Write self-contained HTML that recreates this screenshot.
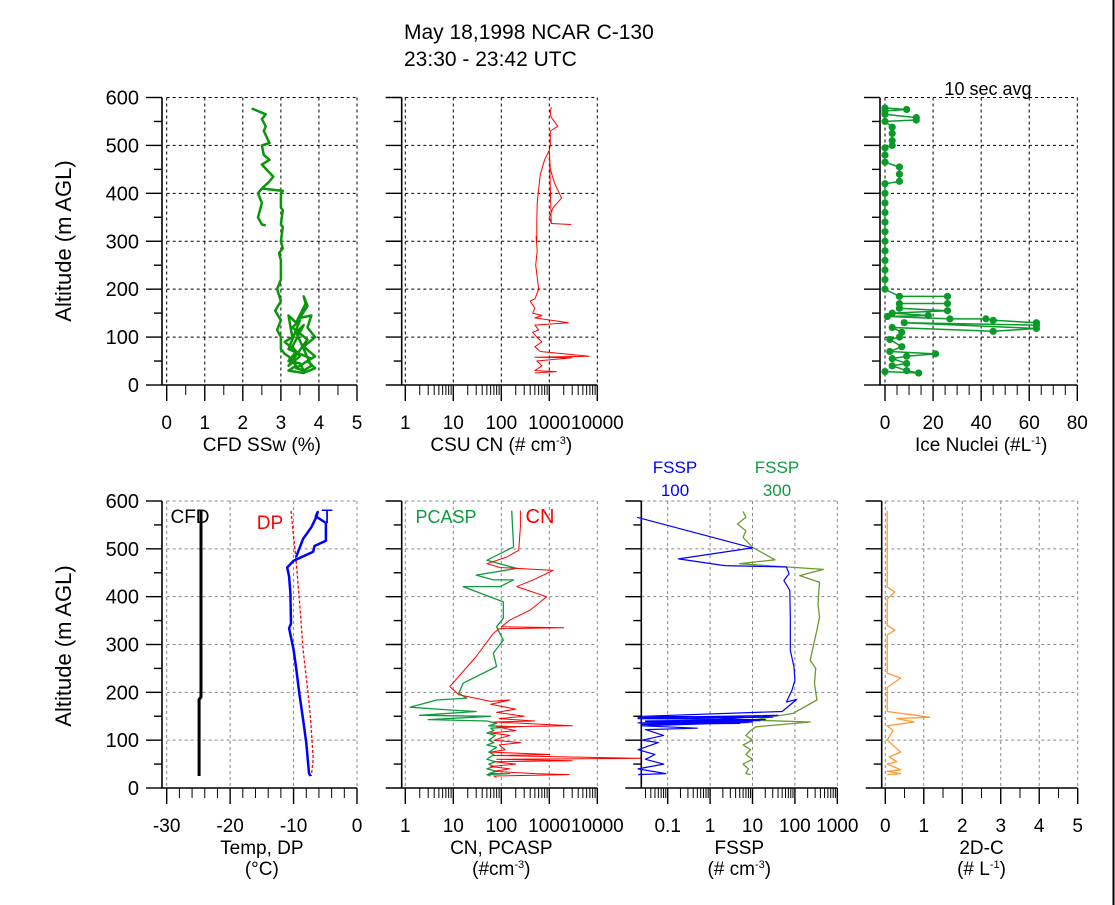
<!DOCTYPE html>
<html><head><meta charset="utf-8"><style>
html,body{margin:0;padding:0;background:#fff;}
body{width:1115px;height:905px;overflow:hidden;}
svg{display:block;font-family:"Liberation Sans",Arial,sans-serif;}
</style></head><body>
<svg id="chart" width="1115" height="905" viewBox="0 0 1115 905" xmlns="http://www.w3.org/2000/svg">
<rect x="0" y="0" width="1115" height="905" fill="#fff"/>
<line x1="1113.5" y1="0" x2="1113.5" y2="905" stroke="#000" stroke-width="2"/>
<text x="404" y="39" font-size="21">May 18,1998 NCAR C-130</text>
<text x="404" y="66" font-size="21">23:30 - 23:42 UTC</text>
<text transform="translate(71,241) rotate(-90)" text-anchor="middle" font-size="22">Altitude (m AGL)</text>
<text transform="translate(71,646) rotate(-90)" text-anchor="middle" font-size="22">Altitude (m AGL)</text>
<text x="988" y="95" text-anchor="middle" font-size="18">10 sec avg</text>
<text x="190" y="523" text-anchor="middle" font-size="19" fill="#000">CFD</text>
<text x="270" y="529" text-anchor="middle" font-size="19" fill="#f00">DP</text>
<text x="327" y="523" text-anchor="middle" font-size="19" fill="#00f">T</text>
<text x="446" y="523" text-anchor="middle" font-size="18" fill="#109a40">PCASP</text>
<text x="540" y="523" text-anchor="middle" font-size="20" fill="#f00">CN</text>
<text x="675" y="473" text-anchor="middle" font-size="17" fill="#00f">FSSP<tspan x="675" dy="23">100</tspan></text>
<text x="777" y="473" text-anchor="middle" font-size="17" fill="#109a40">FSSP<tspan x="777" dy="23">300</tspan></text>
</svg>
<script>
// ---------- data ----------
const altTicks = [0,100,200,300,400,500,600];
const sswVals1 = [2.23,2.3,2.6,2.5,2.6,2.55,2.7,2.5,2.55,2.7,2.5,2.8,2.7,2.5,2.4,2.5,2.4,2.5,2.6];
const sswAlts1 = [577,575,565,555,540,530,505,500,480,470,460,435,425,410,400,380,350,335,333];
const sswVals2 = [2.5,3.05,3.0,3.0,3.05,3.0,3.05,3.0,3.05,2.95,3.0,3.0,2.9,3.0,2.85,3.0,2.9,3.0,3.0,3.1,3.2,3.4,3.2,3.6,3.9,3.7,3.9,3.6,3.9,3.7,3.8,3.5,3.7,3.6,3.65,3.4,3.2,3.3,3.1,3.4,3.2,3.5,3.6,3.8,3.4,3.6,3.3,3.5,3.2,3.7,3.3,3.5,3.2,3.8,3.4,3.6];
const sswAlts2 = [410,405,400,370,365,335,330,300,285,275,260,220,200,175,155,135,115,100,75,65,60,40,30,25,35,50,60,80,100,120,145,140,165,185,170,130,145,100,90,70,50,45,30,40,110,125,80,60,40,95,120,135,75,55,35,30];
const csuVals = [1100,1050,1080,1500,1050,1050,1000,1050,1300,1800,1200,1000,1100,2800,1100,1000,800,650,600,560,550,550,530,560,520,600,500,400,500,450,700,500,2500,500,600,450,550,700,500,650,6800,500,3000,550,700,500,1400,500];
const csuAlts = [580,570,560,540,530,500,490,450,420,390,370,350,337,335,337,490,470,440,410,380,340,300,310,280,250,200,180,175,160,150,145,140,130,125,115,110,100,90,80,70,60,58,57,50,40,30,28,25];
const cfdT = [-24.6,-24.6,-24.9,-24.9];
const cfdAlts = [580,190,185,25];
const tVals = [-9.6,-8.5,-7.2,-6.4,-6.2,-6.5,-4.9,-4.9,-6.7,-6.9,-10,-11,-10.7,-10.5,-10.4,-10.7,-10.0,-9.55,-9.1,-8.5,-8.0,-7.56,-7.35];
const tAlts = [483,521,545,567,577,568,554,517,506,494,475,461,442,407,344,334,289,247,198,143,94,31,25];
const dpVals = [-10.4,-10.1,-9.6,-9.0,-8.5,-7.6,-7.3,-7.1,-6.9,-7.2];
const dpAlts = [579,540,476,380,289,184,140,100,60,25];
const cnVals = [250,250,230,130,50,95,1200,460,210,880,400,150,100,2000,90,68,30,8.5,13,60,150,60,200,80,300,90,500,70,3000,80,200,60,150,70,250,90,120,60,1000,70,81000,80,3000,70,200,60,150,70,500,2600,70,80];
const cnAlts = [580,546,497,483,469,461,455,435,421,400,372,351,337,335,333,323,275,212,195,181,184,175,165,158,150,145,140,138,130,128,120,115,110,100,95,90,80,75,70,68,62,60,57,55,50,45,40,35,30,28,25,22];
const pcVals = [165,180,50,210,30,68,180,95,16,110,110,80,110,68,80,16,13,19,4.5,1.25,8.5,30,2,60,3,50,80,55,200,60,70,50,75,55,70,50,80,55,70,50,75,55,70,50,80,55,150,50,60];
const pcAlts = [580,504,476,459,445,435,435,421,421,389,355,337,309,282,254,219,198,188,184,169,163,160,152,150,143,140,135,130,128,125,120,115,110,100,95,90,85,75,70,60,55,50,45,40,35,30,30,28,25];
const f100Vals = [0.019,10,0.18,2.2,63,73,55,76,78,78,95,100,85,63,110,50,0.025,30,0.02,20,0.03,10,0.02,5,0.025,40,0.02,15,0.03,8,0.025,0.5,0.03,0.08,0.025,0.06,0.02,0.05,0.03,0.08,0.02,0.09,0.02];
const f100Alts = [566,502,479,465,462,448,434,413,357,288,253,225,204,180,185,160,150,148,145,143,140,138,136,135,133,152,147,141,139,137,130,125,122,110,100,95,80,70,60,50,40,30,28];
const f300Vals = [6,7,4.4,7,6,10,34,5,470,130,380,350,380,330,230,310,290,330,90,10,230,12,9,7,10,6,9,7,10,6,8,7,9];
const f300Alts = [578,566,552,538,524,503,477,469,457,444,430,385,357,330,267,250,218,184,156,142,138,128,120,110,100,90,80,70,60,50,40,30,28];
const d2cVals = [0.05,0.05,0.25,0.05,0.05,0.25,0.05,0.05,0.4,0.05,0.05,1.15,0.3,0.75,0.05,0.2,0.05,0.4,0.1,0.3,0.05,0.2,0.4,0.05,0.4,0.05];
const d2cAlts = [580,420,410,395,340,330,320,240,230,210,160,148,145,138,130,120,100,75,65,55,50,45,38,35,30,28];
const inVals = [0,9,0,0,13,13,0,3,3,3,3,0,0,0,6,6,6,0,0,0,0,0,0,0,0,0,0,0,0,6,26,26,6,6,26,3,18,1,27,42,45,63,63,8,63,45,3,7,6,2,7,2,21,9,3,9,3,9,14,0];
const inAlts = [578,575,572,565,558,553,550,538,525,510,500,495,480,465,455,440,425,420,400,380,360,340,320,300,280,260,240,220,200,185,185,170,170,160,155,150,145,143,138,138,135,130,125,130,118,112,120,110,100,95,80,70,65,60,55,45,40,30,25,28];

// ---------- drawing ----------
const svg = document.getElementById('chart');
const NS = 'http://www.w3.org/2000/svg';
function mk(tag, attrs){
  const e = document.createElementNS(NS, tag);
  for (const k in attrs) e.setAttribute(k, attrs[k]);
  svg.appendChild(e);
  return e;
}
const TOP = {ytop:97.5, ybot:385};
const BOT = {ytop:501, ybot:788};
function yScale(row, a){ return row.ybot - a*(row.ybot-row.ytop)/600; }
function linX(p0,p1,v0,v1){ return v => p0 + (v-v0)*(p1-p0)/(v1-v0); }
function logX(p0,p1,l0,l1){ return v => p0 + (Math.log10(v)-l0)*(p1-p0)/(l1-l0); }

function drawPanel(name, row, ax, p0, p1, sx, majors, minors, labels, grid, showY, titleLines){
  for (const a of altTicks){
    if (a===0) continue;
    const y = yScale(row,a);
    const g = mk('line',{x1:p0,y1:y,x2:p1,y2:y,stroke:grid,'stroke-width':1,'stroke-dasharray':'3,3'});
    
    
  }
  for (const v of majors){
    const x = sx(v);
    const g = mk('line',{x1:x,y1:row.ytop,x2:x,y2:row.ybot,stroke:grid,'stroke-width':1,'stroke-dasharray':'3,3'});
    
    
  }
  const yl = mk('line',{x1:ax,y1:row.ytop,x2:ax,y2:row.ybot,stroke:'#000','stroke-width':1.6});
  
  
  const xl = mk('line',{x1:ax,y1:row.ybot,x2:p1,y2:row.ybot,stroke:'#000','stroke-width':1.6});
  
  
  for (let a=0;a<=600;a+=50){
    const y = yScale(row,a);
    const len = (a%100===0)?16:8;
    const t = mk('line',{x1:ax-len,y1:y,x2:ax,y2:y,stroke:'#000','stroke-width':1.4});
    
    
    if (showY && a%100===0){
      const l = mk('text',{x:139,y:y+7,'text-anchor':'end','font-size':20});
      l.textContent = a;
      
      
    }
  }
  for (const v of minors){
    const x = sx(v);
    const t = mk('line',{x1:x,y1:row.ybot,x2:x,y2:row.ybot+10,stroke:'#000','stroke-width':1});
    
    
  }
  majors.forEach((v,i)=>{
    const x = sx(v);
    const t = mk('line',{x1:x,y1:row.ybot,x2:x,y2:row.ybot+16,stroke:'#000','stroke-width':1.4});
    
    
    const l = mk('text',{x:x,y:row.ybot+44,'text-anchor':'middle','font-size':19});
    l.textContent = labels[i];
    
    
  });
  const cx = (p0+p1)/2;
  titleLines.forEach((tl,i)=>{
    const t = mk('text',{x:cx,y:row.ybot+66+i*21,'text-anchor':'middle','font-size':19});
    t.innerHTML = tl;
    
    
  });
}
function series(name,row,sx,vals,alts,color,w,dash){
  const pts = vals.map((v,i)=>sx(v).toFixed(1)+','+yScale(row,alts[i]).toFixed(1)).join(' ');
  const a = {points:pts,fill:'none',stroke:color,'stroke-width':w,'stroke-linejoin':'round'};
  if (dash) a['stroke-dasharray']=dash;
  const e = mk('polyline',a);
  
  
  return e;
}
function logMinors(l0,l1,startMult){
  const r=[];
  for(let d=l0; d<l1; d++) for(let m=2;m<=9;m++){ if(d===l0 && m<startMult) continue; r.push(m*Math.pow(10,d)); }
  return r;
}
function range(a,b,s){const r=[];for(let v=a;v<=b+1e-9;v+=s)r.push(+v.toFixed(4));return r;}
const SUP = s => '<tspan dy="-7" font-size="11">'+s+'</tspan><tspan dy="7">';

const sSsw = linX(166.7,357,0,5);
drawPanel('ssw-panel',TOP,162,166.7,357,sSsw,[0,1,2,3,4,5],range(0.5,4.5,1),['0','1','2','3','4','5'],'#000',true,['CFD SSw (%)']);
series('ssw-line-upper',TOP,sSsw,sswVals1,sswAlts1,'#0a960a',2.5);
series('ssw-line-lower',TOP,sSsw,sswVals2,sswAlts2,'#0a960a',2.5);

const sCsu = logX(405.3,597.3,0,4);
drawPanel('csu-panel',TOP,401.7,405.3,597.3,sCsu,[1,10,100,1000,10000],logMinors(0,4,2),['1','10','100','1000','10000'],'#000',false,['CSU CN (# cm'+SUP('-3')+')</tspan>']);
series('csu-cn-line',TOP,sCsu,csuVals,csuAlts,'#f00',1);

const sIn = linX(885,1077.3,0,80);
drawPanel('ice-panel',TOP,880,885,1077.3,sIn,[0,20,40,60,80],range(5,75,5).filter(v=>v%20!==0),['0','20','40','60','80'],'#000',false,['Ice Nuclei (#L'+SUP('-1')+')</tspan>']);
series('ice-nuclei-line',TOP,sIn,inVals,inAlts,'#0a9a2a',1.5);
inVals.forEach((v,i)=>{
  const c = mk('circle',{cx:sIn(v),cy:yScale(TOP,inAlts[i]),r:3.6,fill:'#0a9a2a'});
  
  
});

const sT = linX(166.7,357,-30,0);
drawPanel('temp-panel',BOT,162,166.7,357,sT,[-30,-20,-10,0],range(-28,-2,2).filter(v=>v%10!==0),['-30','-20','-10','0'],'#888',true,['Temp, DP','(°C)']);
series('cfd-temp-line',BOT,sT,cfdT,cfdAlts,'#000',3);
series('dewpoint-line',BOT,sT,dpVals,dpAlts,'#f00',1.3,'3,2');
series('temperature-line',BOT,sT,tVals,tAlts,'#00f',2.5);

const sCn = logX(405.3,597.3,0,4);
drawPanel('cn-panel',BOT,401.7,405.3,597.3,sCn,[1,10,100,1000,10000],logMinors(0,4,2),['1','10','100','1000','10000'],'#888',false,['CN, PCASP','(#cm'+SUP('-3')+')</tspan>']);
series('pcasp-line',BOT,sCn,pcVals,pcAlts,'#109a40',1.3);
series('cn-line',BOT,sCn,cnVals,cnAlts,'#f00',1);

const sF = logX(667.7,837.3,-1,3);
drawPanel('fssp-panel',BOT,641.3,641.3,837.3,sF,[0.1,1,10,100,1000],[0.03,0.04,0.05,0.06,0.07,0.08,0.09].concat(logMinors(-1,3,2)),['0.1','1','10','100','1000'],'#888',false,['FSSP','(# cm'+SUP('-3')+')</tspan>']);
series('fssp300-line',BOT,sF,f300Vals,f300Alts,'#6a9a30',1.3);
series('fssp100-line',BOT,sF,f100Vals,f100Alts,'#00f',1.2);

const sD = linX(885.3,1077.7,0,5);
drawPanel('twodc-panel',BOT,881.7,885.3,1077.7,sD,[0,1,2,3,4,5],range(0.5,4.5,1),['0','1','2','3','4','5'],'#888',false,['2D-C','(# L'+SUP('-1')+')</tspan>']);
series('twodc-line',BOT,sD,d2cVals,d2cAlts,'#ff9933',1.3);
</script>
</body></html>
